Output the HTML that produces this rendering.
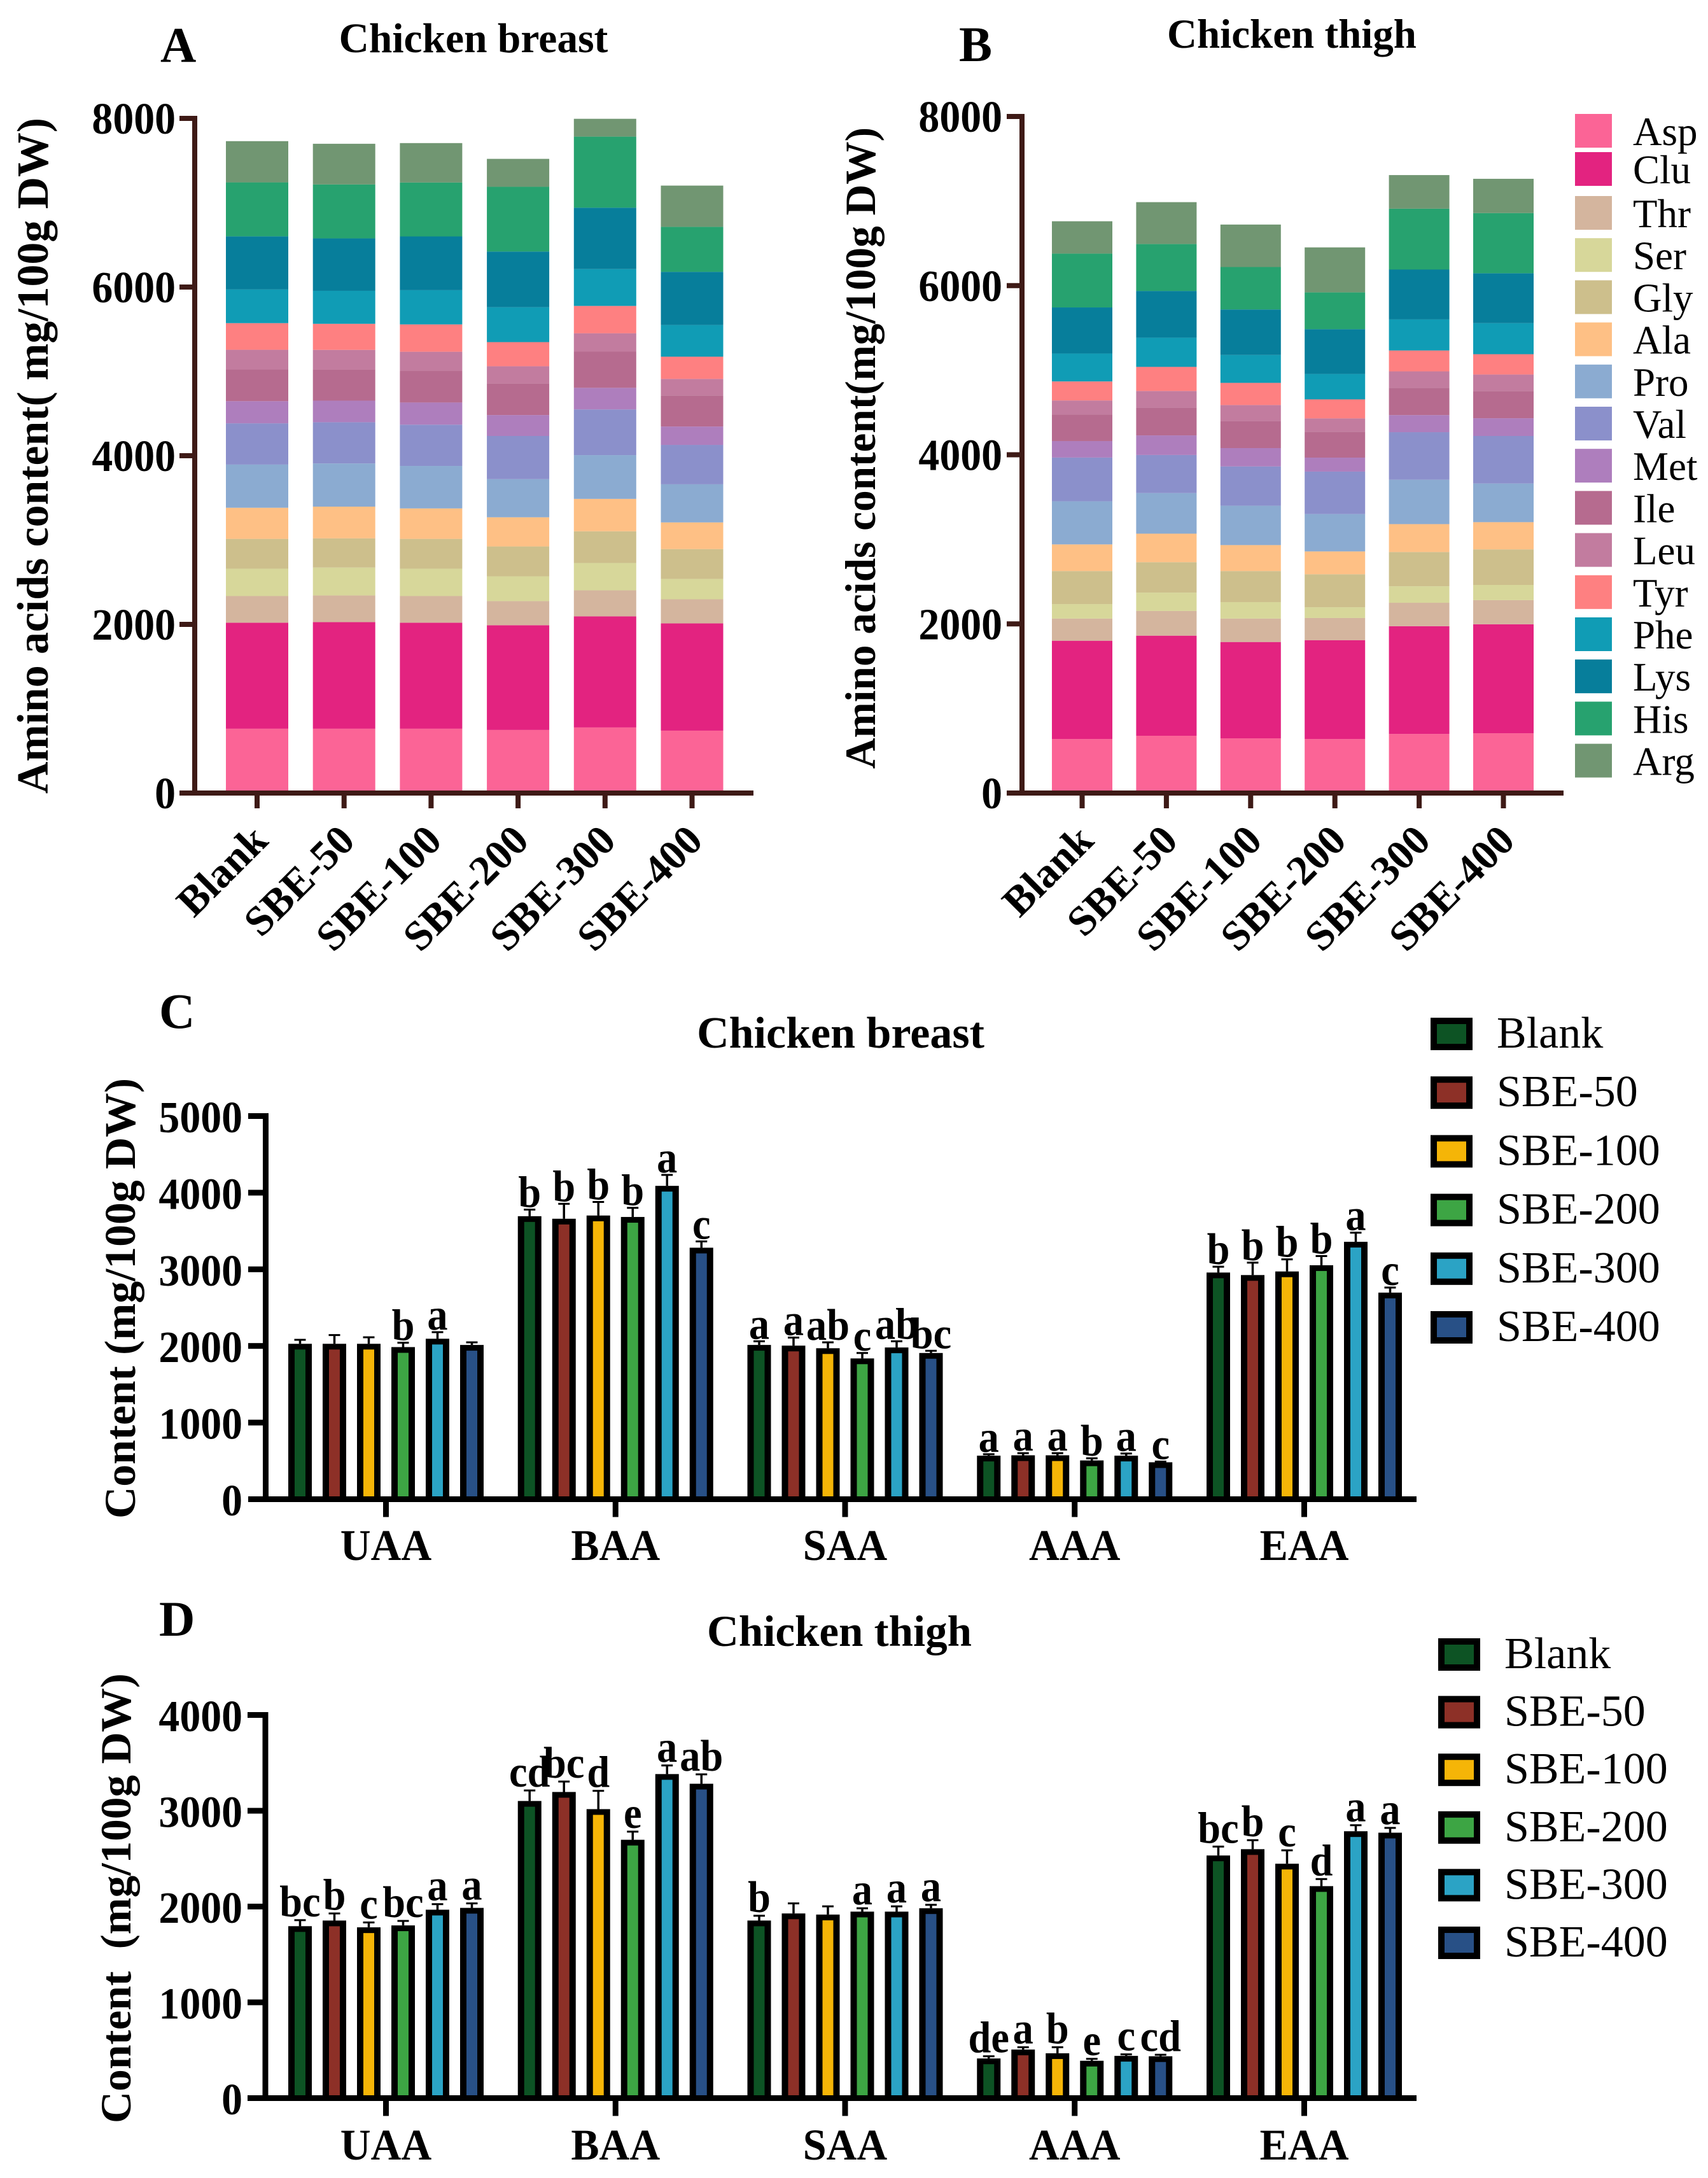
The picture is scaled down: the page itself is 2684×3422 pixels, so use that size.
<!DOCTYPE html>
<html lang="en">
<head>
<meta charset="utf-8">
<title>Amino acid content in chicken breast and thigh</title>
<style>
html,body{margin:0;padding:0;background:#fff;}
svg{display:block;}
text{font-family:"Liberation Serif","Noto Serif CJK SC",serif;fill:#000;}
.b{font-weight:bold;}
</style>
</head>
<body>
<svg id="figure" xmlns="http://www.w3.org/2000/svg" width="2684" height="3422" viewBox="0 0 2684 3422">
  <rect x="0" y="0" width="2684" height="3422" fill="#fff"/>
  <text class="b" x="252" y="97" font-size="78">A</text>
  <text class="b" x="1507" y="96" font-size="78">B</text>
  <text class="b" x="250" y="1615" font-size="78">C</text>
  <text class="b" x="250" y="2570" font-size="78">D</text>
  <text class="b" x="744" y="82" font-size="65.5" text-anchor="middle">Chicken breast</text>
  <text class="b" x="2030" y="75" font-size="65" text-anchor="middle">Chicken thigh</text>
  <text class="b" x="1321" y="1646" font-size="70" text-anchor="middle">Chicken breast</text>
  <text class="b" x="1319" y="2586" font-size="69" text-anchor="middle">Chicken thigh</text>
  <text class="b" transform="translate(75 1247) rotate(-90)" font-size="70" textLength="1062" lengthAdjust="spacingAndGlyphs">Amino acids content( mg/100g DW)</text>
  <text class="b" transform="translate(1375 1208) rotate(-90)" font-size="68" textLength="1008" lengthAdjust="spacingAndGlyphs">Amino acids content(mg/100g DW)</text>
  <text class="b" transform="translate(212 2386) rotate(-90)" font-size="69" textLength="692" lengthAdjust="spacingAndGlyphs">Content (mg/100g DW)</text>
  <text class="b" transform="translate(205 3336) rotate(-90)" font-size="68" textLength="707" lengthAdjust="spacingAndGlyphs" xml:space="preserve">Content  (mg/100g DW)</text>
</svg>
<script>
// ---- stacked panels: categories and legend ----
const treatments = ['Blank','SBE-50','SBE-100','SBE-200','SBE-300','SBE-400'];
const aminoAcids = ['Asp','Clu','Thr','Ser','Gly','Ala','Pro','Val','Met','Ile','Leu','Tyr','Phe','Lys','His','Arg'];
const stackTicks = [0,2000,4000,6000,8000];

// ---- panel A: chicken breast, mg/100g DW per amino acid ----
const breastAsp = [763,763,763,748,778,740];
const breastClu = [1257,1264,1257,1242,1317,1272];
const breastThr = [316,316,316,286,309,286];
const breastSer = [324,331,324,294,324,241];
const breastGly = [354,346,354,354,376,354];
const breastAla = [369,376,361,346,384,316];
const breastPro = [512,512,504,452,519,452];
const breastVal = [489,489,489,512,542,467];
const breastMet = [263,256,263,248,256,218];
const breastIle = [376,369,376,376,429,369];
const breastLeu = [233,233,226,203,218,196];
const breastTyr = [316,309,324,286,324,263];
const breastPhe = [399,391,406,414,437,376];
const breastLys = [630,622,637,660,728,630];
const breastHis = [640,640,640,768,843,534];
const breastArg = [489,482,467,331,211,489];

// ---- panel B: chicken thigh, mg/100g DW per amino acid ----
const thighAsp = [639,677,647,639,699,707];
const thighClu = [1162,1184,1139,1169,1274,1289];
const thighThr = [262,292,277,262,277,285];
const thighSer = [172,217,195,127,195,180];
const thighGly = [390,360,367,390,405,420];
const thighAla = [315,337,307,270,330,322];
const thighPro = [510,480,465,442,525,457];
const thighVal = [517,450,465,502,562,562];
const thighMet = [195,232,217,165,202,210];
const thighIle = [315,330,322,307,322,322];
const thighLeu = [165,195,187,157,195,195];
const thighTyr = [225,285,262,225,247,240];
const thighPhe = [330,345,330,300,367,367];
const thighLys = [545,553,538,530,590,590];
const thighHis = [637,555,502,435,720,712];
const thighArg = [382,495,502,532,397,405];

// ---- grouped panels: categories ----
const aaClasses = ['UAA','BAA','SAA','AAA','EAA'];
const breastGroupTicks = [0,1000,2000,3000,4000,5000];
const thighGroupTicks = [0,1000,2000,3000,4000];

// ---- panel C: chicken breast, mean per treatment ----
const breastUAA = [2028,2028,2028,1985,2094,2013];
const breastBAA = [3693,3660,3702,3683,4089,3282];
const breastSAA = [2013,2004,1970,1837,1980,1908];
const breastAAA = [568,573,573,506,568,482];
const breastEAA = [2958,2925,2972,3053,3359,2696];
// panel C: error
const breastUAAerr = [52,114,85,57,86,34];
const breastBAAerr = [86,195,177,119,143,82];
const breastSAAerr = [48,105,77,71,81,29];
const breastAAAerr = [19,28,28,28,28,9];
const breastEAAerr = [76,162,158,120,119,66];
// panel C: significance letters
const breastUAAsig = ['','','','b','a',''];
const breastBAAsig = ['b','b','b','b','a','c'];
const breastSAAsig = ['a','a','ab','c','ab','bc'];
const breastAAAsig = ['a','a','a','b','a','c'];
const breastEAAsig = ['b','b','b','b','a','c'];

// ---- panel D: chicken thigh, mean per treatment ----
const thighUAA = [1795,1854,1783,1803,1967,1986];
const thighBAA = [3102,3196,3017,2697,3383,3282];
const thighSAA = [1854,1928,1916,1947,1947,1982];
const thighAAA = [414,507,468,390,441,437];
const thighEAA = [2533,2599,2447,2213,2786,2771];
// panel D: error
const thighUAAerr = [63,74,51,47,58,47];
const thighBAAerr = [110,109,191,85,90,98];
const thighSAAerr = [50,105,86,35,55,36];
const thighAAAerr = [23,24,63,20,16,16];
const thighEAAerr = [93,94,140,74,63,50];
// panel D: significance letters
const thighUAAsig = ['bc','b','c','bc','a','a'];
const thighBAAsig = ['cd','bc','d','e','a','ab'];
const thighSAAsig = ['b','','','a','a','a'];
const thighAAAsig = ['de','a','b','e','c','cd'];
const thighEAAsig = ['bc','b','c','d','a','a'];

const breastStacks = [breastAsp,breastClu,breastThr,breastSer,breastGly,breastAla,breastPro,breastVal,breastMet,breastIle,breastLeu,breastTyr,breastPhe,breastLys,breastHis,breastArg];
const thighStacks = [thighAsp,thighClu,thighThr,thighSer,thighGly,thighAla,thighPro,thighVal,thighMet,thighIle,thighLeu,thighTyr,thighPhe,thighLys,thighHis,thighArg];
const breastMeans = [breastUAA,breastBAA,breastSAA,breastAAA,breastEAA];
const breastErrs = [breastUAAerr,breastBAAerr,breastSAAerr,breastAAAerr,breastEAAerr];
const breastSigs = [breastUAAsig,breastBAAsig,breastSAAsig,breastAAAsig,breastEAAsig];
const thighMeans = [thighUAA,thighBAA,thighSAA,thighAAA,thighEAA];
const thighErrs = [thighUAAerr,thighBAAerr,thighSAAerr,thighAAAerr,thighEAAerr];
const thighSigs = [thighUAAsig,thighBAAsig,thighSAAsig,thighAAAsig,thighEAAsig];

const stackColors = ['#FB6496','#E32380','#D4B59E','#D7D79A','#CDBF8C','#FEC085','#8BABD1','#8B90CB','#AE7EBD','#B66B8F','#C27C9F','#FE8081','#109CB5','#077E9B','#27A26F','#719672'];
const treatmentColors = ['#0D5324','#8D3027','#F5B507','#3DA544','#2BA3C5','#285086'];

const svg = document.getElementById('figure');
const NS = 'http://www.w3.org/2000/svg';

function shape(tag, props, text){
  const el = document.createElementNS(NS, tag);
  for (const k in props) el.setAttribute(k, props[k]);
  if (text !== undefined) el.textContent = text;
  svg.appendChild(el);
  return el;
}
function slug(s){ return String(s).toLowerCase().replace(/[^a-z0-9]+/g,'-'); }

function drawAxes(p, ticks, color, w){
  const yAxis = shape('rect',{x:p.axisX-w/2,y:p.top-w/2,width:w,height:p.base-p.top+w,fill:color});
  
  
  const xAxis = shape('rect',{x:p.tickLeft,y:p.base-w/2,width:p.axisRight-p.tickLeft,height:w,fill:color});
  
  
  ticks.forEach(function(t){
    const y = p.y(t);
    const tick = shape('rect',{x:p.tickLeft,y:y-w/2,width:p.axisX-p.tickLeft,height:w,fill:color});
    
    
    const tf = 'translate('+p.labelRight+' '+(y+p.labelDrop)+') scale(0.94 1)';
    const label = shape('text',{transform:tf,'font-size':70,'font-weight':'bold','text-anchor':'end'},String(t));
    
    
  });
}

function drawStacked(p, series){
  const y = function(v){ return p.base - v*(p.base-p.top)/8000; };
  p.y = y;
  const cx = function(i){ return p.x0 + i*p.step; };
  treatments.forEach(function(name,i){
    let cum = 0;
    series.forEach(function(values,s){
      const y1 = y(cum), y2 = y(cum+values[i]);
      const seg = shape('rect',{x:cx(i)-p.barW/2,y:y2,width:p.barW,height:y1-y2,fill:stackColors[s]});
      
      
      cum += values[i];
    });
  });
  drawAxes(p, stackTicks, '#3E1A16', 8);
  treatments.forEach(function(name,i){
    const t = shape('rect',{x:cx(i)-4,y:p.base,width:8,height:24,fill:'#3E1A16'});
    
    
    const lx = cx(i)+p.labelShift, ly = p.base+78;
    const label = shape('text',{transform:'translate('+lx+' '+ly+') rotate(-45)','font-size':66,'font-weight':'bold','text-anchor':'end'},name);
    
    
  });
}

function drawGrouped(p, ticks, means, errs, sigs){
  const maxTick = ticks[ticks.length-1];
  const y = function(v){ return p.base - v*(p.base-p.top)/maxTick; };
  p.y = y;
  const gx = function(g){ return p.x0 + g*p.groupStep; };
  aaClasses.forEach(function(cls,g){
    treatments.forEach(function(name,i){
      const c = gx(g) + (i-2.5)*p.barStep;
      const topY = y(means[g][i]);
      const capY = y(means[g][i]+errs[g][i]);
      const stem = shape('rect',{x:c-1.75,y:capY,width:3.5,height:topY-capY,fill:'#000'});
      
      
      const cap = shape('rect',{x:c-9,y:capY-1.5,width:18,height:3,fill:'#000'});
      
      
      const outer = shape('rect',{x:c-18.5,y:topY,width:37,height:p.base-topY,fill:'#000'});
      
      
      const fill = shape('rect',{x:c-8.5,y:topY+9,width:17,height:Math.max(0,p.base-topY-9),fill:treatmentColors[i]});
      
      
      if (sigs[g][i]) {
        const tf = 'translate('+c+' '+(capY-p.sigGap)+') scale(0.92 1)';
        const letter = shape('text',{transform:tf,'font-size':70,'font-weight':'bold','text-anchor':'middle'},sigs[g][i]);
        
        
      }
    });
  });
  drawAxes(p, ticks, '#000', 9);
  aaClasses.forEach(function(cls,g){
    const t = shape('rect',{x:gx(g)-4.5,y:p.base,width:9,height:28,fill:'#000'});
    
    
    const tf = 'translate('+gx(g)+' '+p.groupLabelY+') scale(0.96 1)';
    const label = shape('text',{transform:tf,'font-size':69,'font-weight':'bold','text-anchor':'middle'},cls);
    
    
  });
}

function drawStackLegend(){
  const x = 2475, h = 53;
  aminoAcids.forEach(function(name,i){
    const yy = i < 2 ? 179 + i*60 : 308 + (i-2)*66.2;
    const sw = shape('rect',{x:x,y:yy,width:58,height:h,fill:stackColors[i]});
    
    
    const t = shape('text',{x:2566,y:yy+49,'font-size':63},name);
    
    
  });
}

function drawTreatmentLegend(id, x, top, step, textX){
  treatments.forEach(function(name,i){
    const yy = top + i*step;
    const outer = shape('rect',{x:x,y:yy,width:66,height:51,fill:'#000'});
    
    
    const sw = shape('rect',{x:x+10,y:yy+10,width:46,height:31,fill:treatmentColors[i]});
    
    
    const t = shape('text',{x:textX,y:yy+47,'font-size':70},name);
    
    
  });
}

drawStacked({id:'panel-a',base:1246,top:186,x0:404,step:136.7,barW:98,axisX:306,tickLeft:282,axisRight:1184,labelRight:276,labelDrop:24,labelShift:20}, breastStacks);
drawStacked({id:'panel-b',base:1246,top:183,x0:1700.5,step:132.4,barW:95,axisX:1606,tickLeft:1582,axisRight:2457,labelRight:1575,labelDrop:24,labelShift:21}, thighStacks);
drawStackLegend();

drawGrouped({id:'panel-c',base:2355.5,top:1753.5,x0:606.5,groupStep:360.75,barStep:54,axisX:417.5,tickLeft:390,axisRight:2226,labelRight:381,labelDrop:25.5,sigGap:4,groupLabelY:2451}, breastGroupTicks, breastMeans, breastErrs, breastSigs);
drawTreatmentLegend('panel-c', 2248, 1599, 92.2, 2352);

drawGrouped({id:'panel-d',base:3296.5,top:2694.5,x0:606.5,groupStep:360.75,barStep:54,axisX:417,tickLeft:389,axisRight:2226,labelRight:381,labelDrop:25.5,sigGap:6,groupLabelY:3393}, thighGroupTicks, thighMeans, thighErrs, thighSigs);
drawTreatmentLegend('panel-d', 2260, 2574, 90.6, 2364);
</script>
</body>
</html>
